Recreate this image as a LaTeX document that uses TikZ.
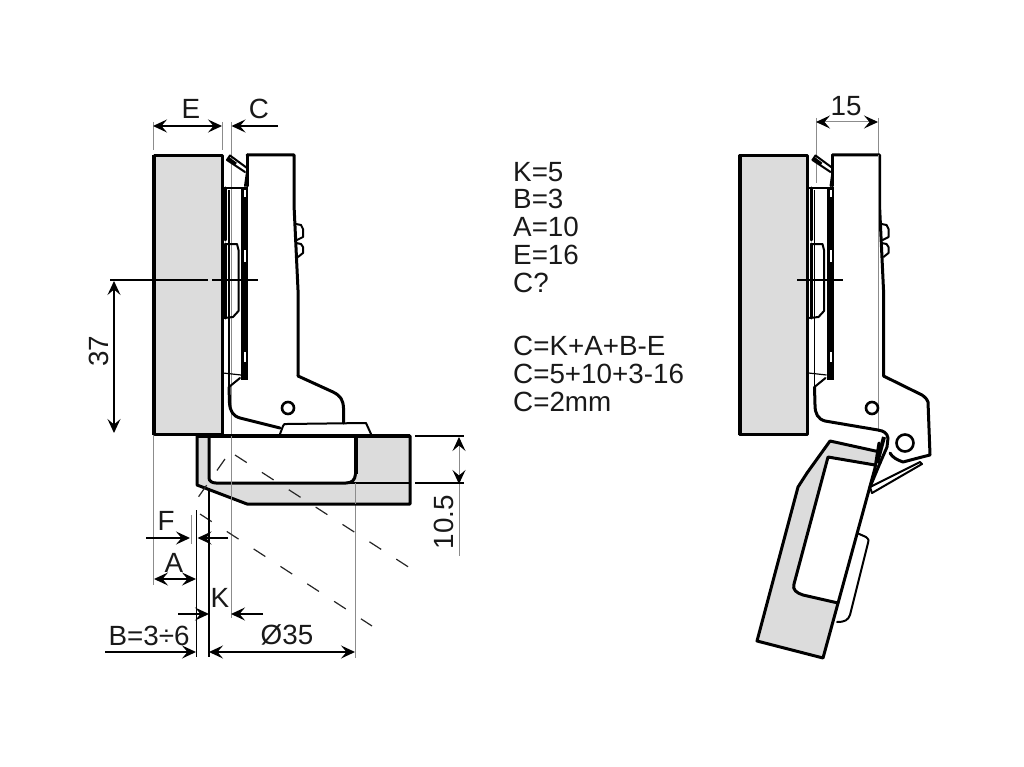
\documentclass[tikz,border=0pt]{standalone}
\usepackage{fontspec}
\setmainfont{Liberation Sans}
\usetikzlibrary{arrows.meta}
\definecolor{panelgray}{HTML}{DCDCDC}
\definecolor{dimgray}{HTML}{8C8C8C}
\tikzset{
  x=1pt,y=-1pt,
  lab/.style={inner sep=0pt,font=\fontsize{27.8}{30}\selectfont,text=black!90},
  txt/.style={lab,anchor=west},
  heavy/.style={line width=3pt,line join=round,line cap=round},
  medium/.style={line width=2pt,line join=round,line cap=round},
  fine/.style={line width=1.2pt},
  guide/.style={line width=1pt,draw=dimgray},
  extl/.style={line width=1.1pt,draw=black!75},
  dimline/.style={line width=1.5pt,arrows={-Stealth[length=14pt,width=13pt,inset=5.5pt]}},
  dimboth/.style={line width=1.5pt,arrows={Stealth[length=14pt,width=13pt,inset=5.5pt]-Stealth[length=14pt,width=13pt,inset=5.5pt]}},
  gdimboth/.style={line width=1pt,draw=dimgray,arrows={Stealth[length=14pt,width=13pt,inset=5.5pt,black]-Stealth[length=14pt,width=13pt,inset=5.5pt,black]}},
  centre/.style={line width=1.2pt,draw=black!85,dash pattern=on 14pt off 18pt},
  hingeupper/.pic={
    % panel
    \filldraw[fill=panelgray,draw=black,line width=3pt,line join=round] (154,156) -- (222,156) -- (222,434) -- (154,434) -- cycle;
    \draw[line width=4pt] (154,155) -- (154,435);
    % cup plate thick band
    \fill[black] (241,187) -- (248,187) -- (248,380) -- (241,380) -- cycle;
    \fill[white] (244.3,190) rectangle (246,197);
    \fill[white] (244.3,250) rectangle (246,262);
    \fill[white] (244.3,352) rectangle (246,362);
    % mounting plate
    \draw[medium] (222,188) -- (241,188);
    \draw[heavy] (225.5,188) -- (225.5,240);
    \draw[heavy] (225.5,244) -- (225.5,318);
    \draw[medium] (225.5,244) -- (237,244) -- (238.5,250) -- (238.5,311) -- (233,317) -- (224,318);
    \draw[fine] (229,190) -- (229,387);
    \draw[fine] (223,373) -- (241,375);
    \draw[medium] (229,387) -- (240,378);
    % clip
    \draw[medium] (227,160) -- (230,155.5) -- (247,168);
    \draw[medium] (227,160) -- (245,172);
    \draw[line width=3pt] (228.5,158.5) -- (236,164);
    \draw[medium] (247,172) -- (245,186);
    % body
    \draw[heavy] (247,155) -- (247,186);
    \draw[heavy] (247,155) -- (294,155) -- (294,205) -- (298,290) -- (298,376);
    % bumps
    \draw[medium] (296,224) -- (301,225) -- (303,229) -- (303,237) -- (297,240);
    \draw[medium] (296,243) -- (301,244) -- (303,247) -- (303,253) -- (298,257);
  }
}
\begin{document}
\begin{tikzpicture}
\useasboundingbox (0,0) rectangle (1024,767);

% named reference coordinates
\coordinate (Etl) at (153,126); \coordinate (Etr) at (222,126);
\coordinate (Cl) at (231.5,126); \coordinate (Cr) at (278,126);
\coordinate (Ftl) at (146,538); \coordinate (Ftr) at (190,538);
\coordinate (Fbl) at (197.5,538); \coordinate (Fbr) at (228,538);
\coordinate (Al) at (154,579); \coordinate (Ar) at (196,579);
\coordinate (Kal) at (178,614); \coordinate (Kar) at (209,614);
\coordinate (Kbl) at (231,614); \coordinate (Kbr) at (263,614);
\coordinate (Bl) at (105,652); \coordinate (Br) at (196,652);
\coordinate (Dl) at (209,652); \coordinate (Dr) at (355,652);
\coordinate (H1) at (114,281); \coordinate (H2) at (114,433);
\coordinate (T1) at (459,437); \coordinate (T2) at (459,484);
\coordinate (Wl) at (816,122); \coordinate (Wr) at (878,122);

% guides behind
\draw[guide] (231.5,122) -- (231.5,618);
\draw[guide] (355,476) -- (355,658);
\draw[guide] (153,435) -- (153,585);
\draw[guide] (153,122) -- (153,150);
\draw[guide] (222,122) -- (222,150);
\draw[guide] (816,118) -- (816,183);
\draw[guide] (878,118) -- (878,432);

% left figure
\pic at (0,0) {hingeupper};
\draw[heavy] (298,376) -- (333,392) .. controls (341,396) and (343,400) .. (343.5,408) -- (343.5,423);
\draw[heavy] (229,387) -- (229.5,403) .. controls (230,411) and (233,416) .. (240,418) -- (280,428);
\draw[medium] (280,434) -- (283,426) .. controls (284,424) .. (287,424) -- (366,423) -- (371,434);
\draw[line width=2.6pt] (288,408) circle (6);

% cup panel
\filldraw[fill=panelgray,draw=none] (197,436) -- (410,436) -- (410,504) -- (247,504) -- (197,485) -- cycle;
\fill[white] (209,436) -- (356,436) -- (356,474) .. controls (356,480) and (352,483) .. (346,483) -- (216,483) .. controls (212,483) and (209,480) .. (209,476) -- cycle;
\draw[line width=3.8pt,line join=round] (197,436) -- (410,436);
\draw[heavy] (197,436) -- (197,485) -- (247,504) -- (410,504) -- (410,436);
\draw[line width=3pt] (209,436) -- (209,478) .. controls (209,481) and (212,483) .. (216,483) -- (346,483) .. controls (352,483) and (355,480) .. (355.5,474);
\draw[line width=4pt] (355.5,436) -- (355.5,474);
\draw[fine] (346,483) -- (410,483);
\draw[guide] (231.5,436) -- (231.5,504);
\draw[guide] (355,483) -- (355,504);

% centre lines
\draw[centre] (235,455) -- (410,568);
\draw[centre] (200,514) -- (372,626);
\draw[centre] (225,459) -- (197,499);

% vertical black leaders
\draw[line width=1.5pt] (196.7,510) -- (196.7,657);
\draw[line width=1.5pt] (209,490) -- (209,657);
\draw[guide] (191,515) -- (191,544);
\draw[fine] (110,280) -- (208,280);
\draw[fine] (212,280) -- (258,280);

% dimensions
\draw[dimboth] (Etl) -- (Etr);
\draw[dimline] (Cr) -- (Cl);
\draw[dimline] (Ftl) -- (Ftr);
\draw[dimline] (Fbr) -- (Fbl);
\draw[dimboth] (Al) -- (Ar);
\draw[dimline] (Kal) -- (Kar);
\draw[dimline] (Kbr) -- (Kbl);
\draw[dimline] (Bl) -- (Br);
\draw[dimboth] (Dl) -- (Dr);
\draw[dimboth,line width=1.2pt] (H1) -- (H2);
\draw[fine] (415,436) -- (464,436);
\draw[fine] (415,483) -- (464,483);
\draw[gdimboth] (T1) -- (T2);
\draw[guide] (459,484) -- (459,556);
\draw[gdimboth] (Wl) -- (Wr);

% labels
\node[lab] (labE) at (191,109) {E};
\node[lab] (labC) at (259,109) {C};
\node[lab,rotate=90] (lab37) at (99,351) {37};
\node[lab,rotate=90] (lab105) at (444,522) {10.5};
\node[lab] (labF) at (166,521) {F};
\node[lab] (labA) at (174,563) {A};
\node[lab] (labK) at (220,598) {K};
\node[lab] (labB) at (149,636) {B=3÷6};
\node[lab] (lab35) at (287,635) {Ø35};
\node[lab] (lab15) at (846,106) {15};

% text block
\node[txt] (t1) at (513,172) {K=5};
\node[txt] (t2) at (513,199) {B=3};
\node[txt] (t3) at (513,227) {A=10};
\node[txt] (t4) at (513,255) {E=16};
\node[txt] (t5) at (513,283) {C?};
\node[txt] (t6) at (513,346) {C=K+A+B-E};
\node[txt] (t7) at (513,374) {C=5+10+3-16};
\node[txt] (t8) at (513,402) {C=2mm};

% right figure
\pic at (585.5,0) {hingeupper};
\draw[fine] (797,280) -- (843,280);
\draw[guide] (878,155) -- (878,432);
\draw[heavy] (883.5,376) -- (922,395) .. controls (926,398) .. (928,402) -- (930,455) -- (922,457) -- (903,462) .. controls (897,460) and (892,457) .. (890,453);
\draw[line width=2.6pt] (905,443) circle (8.5);
\draw[line width=2.6pt] (872,408) circle (6);
\draw[heavy] (814.5,387) -- (815,405) .. controls (815,414) and (818,419) .. (825,421) -- (878,430) .. controls (884,431) and (887,433) .. (888,438) -- (887,447) -- (880,463);

% door
\filldraw[fill=panelgray,draw=none] (830,441) -- (880,452) -- (875,468) -- (823,658) -- (757,641) -- (798,487) -- (807,473) -- cycle;
\filldraw[fill=white,draw=none] (828,457) -- (875,465) -- (838,603) -- (803,595) .. controls (797,593) and (792,590) .. (794,584) -- cycle;
\draw[heavy] (880,452) -- (830,441) -- (807,473) -- (798,487) -- (757,641) -- (823,658) -- (875,468);
\draw[heavy] (875,465) -- (828,457) -- (794,584) .. controls (792,590) and (797,593) .. (803,595) -- (838,603);
\draw[heavy] (879,443) -- (875,468);
\draw[line width=4pt] (884,437) -- (877,463);
% bump
\draw[medium] (857,533) -- (866,537) .. controls (869,540) .. (868,543) -- (850,615) .. controls (848,620) and (845,622) .. (837,622);
% lever
\draw[medium] (870,487) -- (920,462);
\draw[medium] (872,493) -- (922,464) -- (920,462);
\draw[medium] (870,487) -- (872,493);
\draw[heavy] (880,463) -- (870,487);
\end{tikzpicture}
\end{document}
